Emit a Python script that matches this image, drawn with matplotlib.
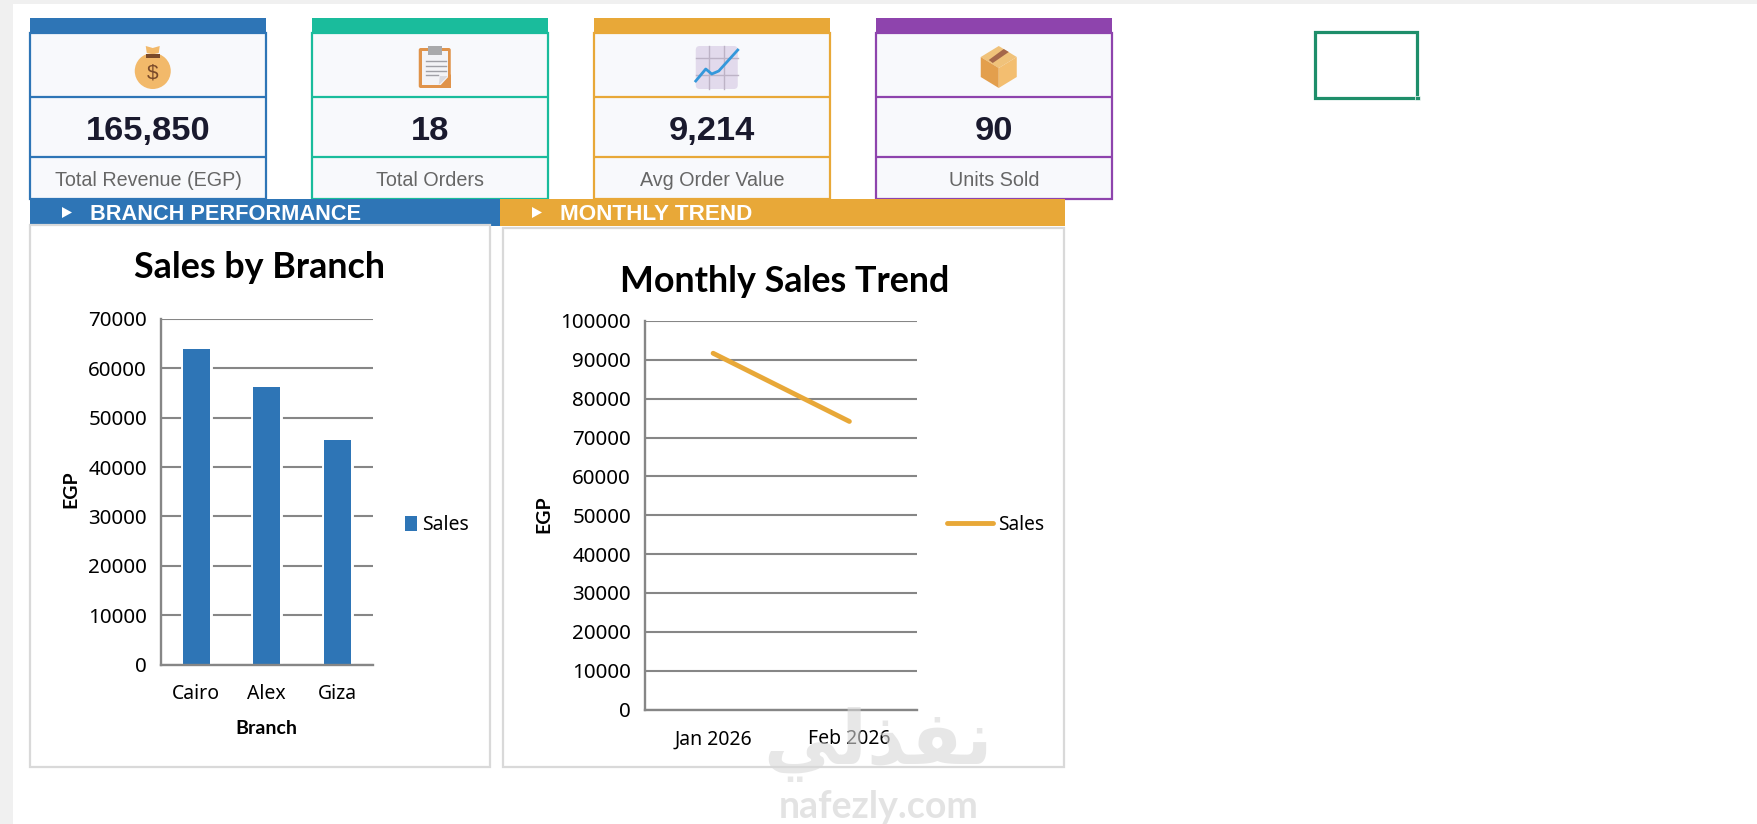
import matplotlib
matplotlib.use('Agg')
import matplotlib.pyplot as plt
from matplotlib.patches import Rectangle, Polygon, Ellipse, FancyBboxPatch
import matplotlib.patheffects as pe

W, H = 1757, 824

# KPI cards
card_values = ['165,850', '18', '9,214', '90']
card_labels = ['Total Revenue (EGP)', 'Total Orders', 'Avg Order Value', 'Units Sold']
card_colors = ['#2E75B6', '#1ABC9C', '#E8A838', '#8E44AD']
card_lefts = [30, 312, 594, 876]

# charts
branches = ['Cairo', 'Alex', 'Giza']
branch_sales = [64000, 56300, 45550]
months = ['Jan 2026', 'Feb 2026']
month_sales = [91700, 74150]

BLUE = '#2E75B6'
ORANGE = '#E8A838'
CHART_FONT = 'Noto Sans'
BOLD_FONT = 'Lato'
CARD_FONT = 'Liberation Sans'
GRID = '#868686'

fig = plt.figure(figsize=(W / 100, H / 100), dpi=100, facecolor='white')
bg = fig.add_axes([0, 0, 1, 1])
bg.set_xlim(0, W)
bg.set_ylim(H, 0)
bg.axis('off')


def box(x0, y0, x1, y1, **kw):
    bg.add_patch(Rectangle((x0, y0), x1 - x0, y1 - y0, **kw))


def axes_px(x0, y0, x1, y1):
    ax = fig.add_axes([x0 / W, 1 - y1 / H, (x1 - x0) / W, (y1 - y0) / H])
    ax.patch.set_alpha(0)
    return ax


def money_bag(cx):
    bg.add_patch(Ellipse((cx, 71), 36, 36, fc='#F2B96A', ec='none'))
    bg.add_patch(Polygon([(cx - 8, 60), (cx + 8, 60), (cx + 4, 54), (cx - 4, 54)], fc='#F2B96A', ec='none'))
    bg.add_patch(Polygon([(cx - 6, 53), (cx - 7, 46), (cx, 48), (cx + 7, 46), (cx + 6, 53)], fc='#F2B96A', ec='none'))
    box(cx - 7, 54, cx + 7, 57.5, fc='#7A4A2A', ec='none')
    bg.text(cx, 73, '$', ha='center', va='center', fontsize=15, color='#7A4A2A', family=CARD_FONT)


def clipboard(cx):
    bg.add_patch(FancyBboxPatch((cx - 16, 48), 32, 40, boxstyle='round,pad=0,rounding_size=2', fc='#E0934A', ec='none'))
    box(cx - 13, 51, cx + 13, 85, fc='#F3F3F6', ec='none')
    box(cx - 7, 46, cx + 7, 55, fc='#A9A9AB', ec='none')
    for y, half in zip([61, 66, 71, 75], [10, 10, 10, 6]):
        bg.plot([cx - 9, cx - 9 + 2 * half], [y, y], color='#A0A0A6', lw=1)
    bg.add_patch(Polygon([(cx + 16, 74), (cx + 16, 88), (cx + 3, 88)], fc='#E0934A', ec='none'))
    bg.add_patch(Polygon([(cx + 4, 85), (cx + 13, 76), (cx + 5, 76)], fc='#DADADF', ec='none'))


def trend_icon(cx):
    bg.add_patch(FancyBboxPatch((cx - 21, 46), 42, 43, boxstyle='round,pad=0,rounding_size=4', fc='#E2DAEC', ec='none'))
    for dx in [-8, 7]:
        bg.plot([cx + dx, cx + dx], [46, 89], color='#BDB3C6', lw=1)
    for y in [58, 75]:
        bg.plot([cx - 21, cx + 21], [y, y], color='#BDB3C6', lw=1)
    bg.plot([cx - 21, cx - 11, cx - 5, cx + 2, cx + 21], [81, 69, 74, 71, 50], color='#3498DB', lw=2)


def parcel(cx):
    bg.add_patch(Polygon([(cx, 46), (cx + 18, 57), (cx, 68), (cx - 18, 57)], fc='#F0C27A', ec='none'))
    bg.add_patch(Polygon([(cx - 18, 57), (cx, 68), (cx, 88), (cx - 18, 77)], fc='#E39F4D', ec='none'))
    bg.add_patch(Polygon([(cx + 18, 57), (cx, 68), (cx, 88), (cx + 18, 77)], fc='#F3BE70', ec='none'))
    bg.add_patch(Polygon([(cx + 5, 49), (cx + 10, 52), (cx - 6, 63), (cx - 10, 60)], fc='#A5674A', ec='none'))


card_icons = [money_bag, clipboard, trend_icon, parcel]

# window chrome
box(0, 0, W, 4, fc='#F0F0F0', ec='none')
box(0, 4, 12.5, H, fc='#F0F0F0', ec='none')

# selected cell
box(1315, 32, 1417, 97.5, fc='none', ec='#1E8E6A', lw=2.3)
box(1415, 95.5, 1419.5, 100, fc='#1E8E6A', ec='white', lw=0.5)

# cards
card_w = 235.5
for left, val, lab, col, icon in zip(card_lefts, card_values, card_labels, card_colors, card_icons):
    box(left, 33, left + card_w, 198.5, fc='#F8F9FC', ec=col, lw=1.6)
    box(left - 0.5, 18, left + card_w + 0.5, 33, fc=col, ec='none')
    for y in [97, 157]:
        bg.plot([left, left + card_w], [y, y], color=col, lw=1.6, solid_capstyle='butt')
    cx = left + card_w / 2
    icon(cx + 5)
    bg.text(cx + 0.5, 131, val, ha='center', va='center', fontsize=24.8, fontweight='bold',
            color='#1A1A2E', family=CARD_FONT)
    bg.text(cx + 0.5, 180, lab, ha='center', va='center', fontsize=14.2, color='#666666', family=CARD_FONT)

# section headers
box(29.5, 199, 500, 225.5, fc=BLUE, ec='none')
box(500, 199, 1065, 226, fc=ORANGE, ec='none')
for x, label, tx, size in [(62, 'BRANCH PERFORMANCE', 90.5, 15.7), (532, 'MONTHLY TREND', 560, 16.2)]:
    bg.add_patch(Polygon([(x, 207), (x, 218), (x + 10, 212.5)], fc='white', ec='none'))
    bg.text(tx, 214.5, label, ha='left', va='center', fontsize=size, fontweight='bold', color='white', family=CARD_FONT)

# chart panels
box(30, 225, 490, 767, fc='white', ec='#D9D9D9', lw=1.6)
box(503, 228, 1064, 767, fc='white', ec='#D9D9D9', lw=1.6)

bg.text(259.5, 267, 'Sales by Branch', ha='center', va='center', fontsize=25.8, fontweight='bold', family=BOLD_FONT)
bg.text(785, 282, 'Monthly Sales Trend', ha='center', va='center', fontsize=25.8, fontweight='bold', family=BOLD_FONT)


def style_axis(ax, top, step):
    ax.set_ylim(0, top)
    ax.set_yticks(range(0, top + 1, step))
    ax.yaxis.grid(True, color=GRID, lw=1.5)
    ax.xaxis.grid(False)
    ax.set_axisbelow(True)
    ax.spines[['top', 'right']].set_visible(False)
    ax.spines[['left', 'bottom']].set_color(GRID)
    ax.spines[['left', 'bottom']].set_linewidth(1.7)
    ax.tick_params(axis='y', length=0, labelsize=14.8, pad=10)
    ax.tick_params(axis='x', length=0, labelsize=14, pad=14.2)
    for t in ax.get_xticklabels() + ax.get_yticklabels():
        t.set_family(CHART_FONT)


def axis_label(label, text):
    label.set_text(text)
    label.set(fontsize=14, fontweight='bold', family=BOLD_FONT, va='center')


# bar chart
ax1 = axes_px(161, 319, 372.5, 664.5)
pos = range(len(branches))
bars = ax1.bar(pos, branch_sales, width=0.38, color=BLUE, label='Sales',
               path_effects=[pe.withStroke(linewidth=3.5, foreground='white')])
ax1.set_xlim(-0.5, 2.5)
ax1.set_xticks(list(pos), branches)
style_axis(ax1, 70000, 10000)
axis_label(ax1.yaxis.label, 'EGP')
ax1.yaxis.set_label_coords((70.5 - 161) / 211.5, (664.5 - 489) / 345.5)
axis_label(ax1.xaxis.label, 'Branch')
ax1.xaxis.set_label_coords((266 - 161) / 211.5, (664.5 - 728) / 345.5)
ax1.legend(loc='center left', bbox_to_anchor=(405 / W, 1 - 525 / H), bbox_transform=fig.transFigure,
           frameon=False, borderpad=0, borderaxespad=0, handlelength=0.6, handleheight=0.8, handletextpad=0.3,
           prop={'family': CHART_FONT, 'size': 14})

# line chart
ax2 = axes_px(645, 321, 917.5, 709.5)
pos2 = range(len(months))
ax2.plot(pos2, month_sales, color=ORANGE, lw=3.5, label='Sales', solid_capstyle='round')
ax2.set_xlim(-0.5, 1.5)
ax2.set_xticks(list(pos2), months)
style_axis(ax2, 100000, 10000)
axis_label(ax2.yaxis.label, 'EGP')
ax2.yaxis.set_label_coords((543.5 - 645) / 272.5, (709.5 - 514) / 388.5)
ax2.legend(loc='center left', bbox_to_anchor=(947 / W, 1 - 525 / H), bbox_transform=fig.transFigure,
           frameon=False, borderpad=0, borderaxespad=0, handlelength=2.4, handletextpad=0.25,
           prop={'family': CHART_FONT, 'size': 13.8})

# watermark sits over the charts
fig.text(878 / W, 1 - 745 / H, '\ufef2\ufedf\ufeac\ufed4\ufee7', ha='center', va='center', fontsize=54,
         fontweight='bold', family='DejaVu Sans', color='#D8D8D8', alpha=0.6, zorder=10)
fig.text(878.5 / W, 1 - 807 / H, 'nafezly.com', ha='center', va='center', fontsize=27,
         fontweight='bold', family=BOLD_FONT, color='#D8D8D8', alpha=0.7, zorder=10)

fig.savefig('out.png', dpi=100)
